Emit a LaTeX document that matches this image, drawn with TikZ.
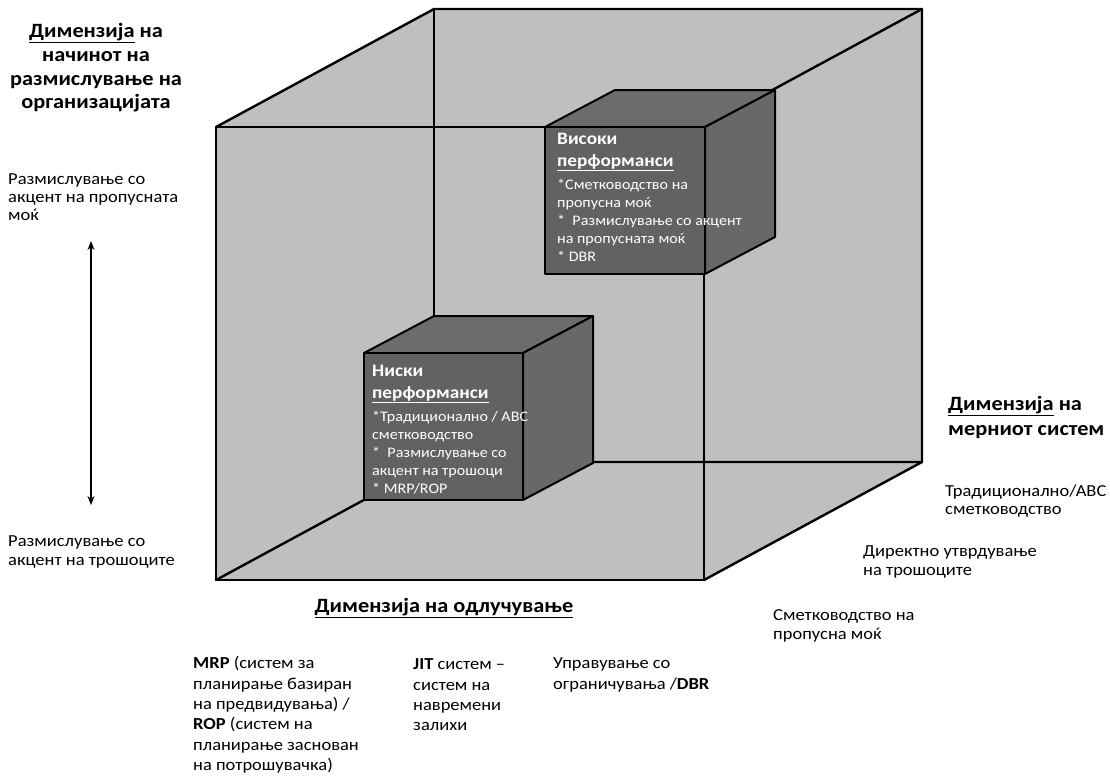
\documentclass[tikz,border=0pt]{standalone}
\usepackage{fontspec}
\setmainfont{Carlito}[FakeStretch=1.1]
\usetikzlibrary{arrows.meta}

\definecolor{shellgray}{RGB}{191,191,191}
\definecolor{blockfront}{RGB}{98,98,98}
\definecolor{blocktop}{RGB}{108,108,108}
\definecolor{blockside}{RGB}{104,104,104}

\tikzset{
  shelledge/.style={draw=black, line width=2.4pt, line join=round, line cap=round},
  blockedge/.style={draw=black, line width=2pt, line join=round},
  head/.style={inner sep=0pt, font=\bfseries\fontsize{20.3}{23.7}\selectfont, align=center},
  lbl/.style={inner sep=0pt, anchor=west, align=left, font=\fontsize{16.8}{18.2}\selectfont},
  col/.style={lbl, font=\fontsize{16.8}{20.4}\selectfont},
  wtxt/.style={inner sep=0pt, anchor=west, align=left, text=white, font=\fontsize{14.6}{18}\selectfont},
  wtitle/.style={inner sep=0pt, anchor=west, align=left, text=white, font=\bfseries\fontsize{17.5}{21.5}\selectfont},
  twoway/.style={{Stealth[length=9pt,width=7pt]}-{Stealth[length=9pt,width=7pt]}, line width=1.1pt}
}

\begin{document}
\begin{tikzpicture}[x=1pt,y=-1pt]
\useasboundingbox (0,0) rectangle (1110,776);

% ---- outer transparent cube ----
\coordinate (ftl) at (216,127);
\coordinate (ftr) at (704,127);
\coordinate (fbr) at (704,580);
\coordinate (fbl) at (216,580);
\coordinate (btl) at (434,9);
\coordinate (btr) at (922,9);
\coordinate (bbr) at (922,462);
\coordinate (bbl) at (434,462);

\fill[shellgray] (ftl) -- (btl) -- (btr) -- (bbr) -- (fbr) -- (fbl) -- cycle;
\draw[shelledge] (fbl) -- (bbl) -- (bbr);
\draw[shelledge] (bbl) -- (btl);
\draw[shelledge] (ftl) -- (ftr) -- (fbr) -- (fbl) -- cycle;
\draw[shelledge] (ftl) -- (btl) -- (btr) -- (bbr) -- (fbr);
\draw[shelledge] (ftr) -- (btr);

% ---- high-performance block ----
\coordinate (hftl) at (545,127);
\coordinate (hftr) at (705,127);
\coordinate (hfbr) at (705,274);
\coordinate (hfbl) at (545,274);
\coordinate (hbtl) at (615,90);
\coordinate (hbtr) at (775,90);
\coordinate (hbbr) at (775,237);
\filldraw[blockedge, fill=blocktop] (hftl) -- (hbtl) -- (hbtr) -- (hftr) -- cycle;
\filldraw[blockedge, fill=blockside] (hftr) -- (hbtr) -- (hbbr) -- (hfbr) -- cycle;
\filldraw[blockedge, fill=blockfront] (hftl) rectangle (hfbr);

% ---- low-performance block ----
\coordinate (lftl) at (364,353);
\coordinate (lftr) at (523,353);
\coordinate (lfbr) at (523,500);
\coordinate (lfbl) at (364,500);
\coordinate (lbtl) at (434,316);
\coordinate (lbtr) at (593,316);
\coordinate (lbbr) at (593,463);
\filldraw[blockedge, fill=blocktop] (lftl) -- (lbtl) -- (lbtr) -- (lftr) -- cycle;
\filldraw[blockedge, fill=blockside] (lftr) -- (lbtr) -- (lbbr) -- (lfbr) -- cycle;
\filldraw[blockedge, fill=blockfront] (lftl) rectangle (lfbr);

% ---- block texts ----
\node[wtitle] (hititle) at (557,152) {Високи\\\underline{перформанси}};
\node[wtxt] (hibody) at (557,220) {*Сметководство на\\пропусна моќ\\* \ Размислување со акцент\\на пропусната моќ\\* DBR};

\node[wtitle] (lotitle) at (372,384) {Ниски\\\underline{перформанси}};
\node[wtxt] (lobody) at (372,453) {*Традиционално / ABC\\сметководство\\* \ Размислување со\\акцент на трошоци\\* MRP/ROP};

% ---- thinking dimension (left) ----
\node[head] (hthink) at (96,68) {\underline{Димензија} на\\начинот на\\размислување на\\организацијата};
\node[lbl] (thru) at (8,197) {Размислување со\\акцент на пропусната\\моќ};
\node[lbl] (cost) at (8,552) {Размислување со\\акцент на трошоците};
\coordinate (arrtop) at (91,241);
\coordinate (arrbot) at (91,505);
\draw[twoway] (arrtop) -- (arrbot);

% ---- measurement dimension (right) ----
\node[head, anchor=west, align=left, font=\bfseries\fontsize{20.3}{25}\selectfont] (hmeas) at (948,417) {\underline{Димензија} на\\мерниот систем};
\node[lbl] (trad) at (945,501) {Традиционално/ABC\\сметководство};
\node[lbl, font=\fontsize{16.8}{19.5}\selectfont] (direct) at (863,562) {Директно утврдување\\на трошоците};
\node[lbl, font=\fontsize{16.8}{19.5}\selectfont] (tacc) at (773,626) {Сметководство на\\пропусна моќ};

% ---- decision dimension (bottom) ----
\node[head] (hdec) at (444,608) {\underline{Димензија на одлучување}};
\node[col] (mrp) at (193,715) {\textbf{MRP} (систем за\\планирање базиран\\на предвидувања) /\\\textbf{ROP} (систем на\\планирање заснован\\на потрошувачка)};
\node[col] (jit) at (413,695) {\textbf{JIT} систем –\\систем на\\навремени\\залихи};
\node[col] (dbr) at (553,675) {Управување со\\ограничувања /\textbf{DBR}};
\end{tikzpicture}
\end{document}
